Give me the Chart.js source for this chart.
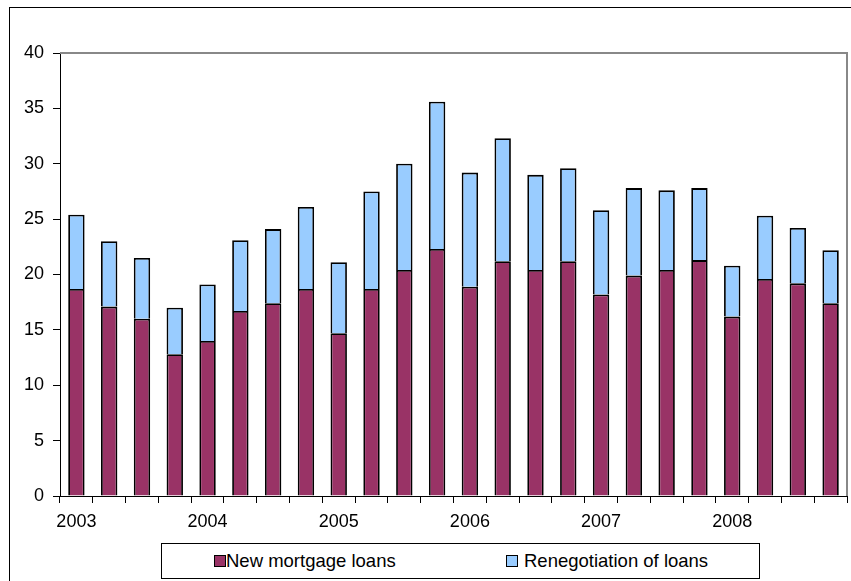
<!DOCTYPE html>
<html>
<head>
<meta charset="utf-8">
<script src="https://cdn.jsdelivr.net/npm/chart.js@4/dist/chart.umd.min.js"></script>
<style>
  html, body { margin: 0; padding: 0; background: #fff; overflow: hidden; }
  #wrap { position: relative; width: 851px; height: 581px; overflow: hidden; }
  #frame { position: absolute; left: 9px; top: 7px; width: 900px; height: 700px;
           border-left: 1px solid #000; border-top: 1px solid #000; }
  #chart { position: absolute; left: 0; top: 0; }
  #legend { position: absolute; left: 161px; top: 543px; width: 597px; height: 34px;
            border: 1px solid #000; background: #fff;
            font-family: "Liberation Sans", Arial, sans-serif; font-size: 18.5px; color: #000; }
  .item { position: absolute; top: 0; height: 34px; line-height: 34px; white-space: nowrap; }
  .box { display: inline-block; width: 10px; height: 10px; border: 1px solid #000;
         vertical-align: middle; margin-top: -3px; }
</style>
</head>
<body>
<div id="wrap">
  <div id="frame"></div>
  <canvas id="chart" width="851" height="581"></canvas>
  <div id="legend"></div>
</div>
<script>
// quarterly data 2003 - 2008
const years = ['2003', '2004', '2005', '2006', '2007', '2008'];
const quarters = ['Q1', 'Q2', 'Q3', 'Q4'];

const newLoans = [18.7, 17.1, 16.0, 12.8, 14.0, 16.7, 17.4, 18.7, 14.7, 18.7, 20.4, 22.3,
                  18.9, 21.2, 20.4, 21.2, 18.2, 19.9, 20.4, 21.3, 16.2, 19.6, 19.2, 17.4];
const renegotiation = [6.7, 5.9, 5.5, 4.2, 5.1, 6.4, 6.7, 7.4, 6.4, 8.8, 9.6, 13.3,
                       10.3, 11.1, 8.6, 8.4, 7.6, 7.9, 7.2, 6.5, 4.6, 5.7, 5.0, 4.8];
const yTicks = [0, 5, 10, 15, 20, 25, 30, 35, 40];

const labels = [];
years.forEach(y => quarters.forEach(q => labels.push(y + ' ' + q)));

const seriesInfo = [
    { label: 'New mortgage loans', color: '#993366', left: 52, gap: 0 },
    { label: 'Renegotiation of loans', color: '#99CCFF', left: 344, gap: 6 },
];

// gray top and right edges of the plot area
const plotFrame = {
    id: 'plotFrame',
    beforeDatasetsDraw(chart) {
        const { ctx, chartArea: a } = chart;
        ctx.save();
        ctx.strokeStyle = '#888888';
        ctx.lineWidth = 2;
        ctx.beginPath();
        ctx.moveTo(a.left, a.top);
        ctx.lineTo(a.right, a.top);
        ctx.lineTo(a.right, a.bottom);
        ctx.stroke();
        ctx.restore();
    }
};

const tickFont = { family: '"Liberation Sans", Arial, sans-serif', size: 18 };

new Chart(document.getElementById('chart').getContext('2d'), {
    type: 'bar',
    data: {
        labels: labels,
        datasets: [
            { label: seriesInfo[0].label, data: newLoans, backgroundColor: seriesInfo[0].color,
              borderColor: '#000', borderWidth: 1.8, barPercentage: 0.5, categoryPercentage: 1.0 },
            { label: seriesInfo[1].label, data: renegotiation, backgroundColor: seriesInfo[1].color,
              borderColor: '#000', borderWidth: 1.8, barPercentage: 0.5, categoryPercentage: 1.0 },
        ],
    },
    options: {
        responsive: false,
        animation: false,
        layout: { padding: { left: 0, top: 53, right: 4, bottom: 0 } },
        plugins: { legend: { display: false }, tooltip: { enabled: false } },
        scales: {
            x: {
                stacked: true,
                grid: { offset: true, drawOnChartArea: false, tickLength: 7, color: '#000' },
                border: { color: '#000', width: 1 },
                ticks: {
                    autoSkip: false, maxRotation: 0, color: '#000', font: tickFont, padding: 8,
                    callback: (v, i) => (i % 4 === 0 ? years[i / 4] : ''),
                },
                afterFit: (s) => { s.height = 85; },
            },
            y: {
                stacked: true,
                min: 0,
                max: 40,
                grid: { drawOnChartArea: false, tickLength: 7, color: '#000' },
                border: { color: '#000', width: 1 },
                afterBuildTicks: (s) => { s.ticks = yTicks.map(v => ({ value: v })); },
                ticks: { color: '#000', font: tickFont, padding: 9 },
                afterFit: (s) => { s.width = 60; },
            },
        },
    },
    plugins: [plotFrame],
});

// legend built from the series info
const legend = document.getElementById('legend');
seriesInfo.forEach(s => {
    const item = document.createElement('div');
    item.className = 'item';
    item.style.left = s.left + 'px';
    item.innerHTML = '<span class="box" style="background:' + s.color + ';margin-right:' + s.gap + 'px"></span>' + s.label;
    legend.appendChild(item);
});
</script>
</body>
</html>
